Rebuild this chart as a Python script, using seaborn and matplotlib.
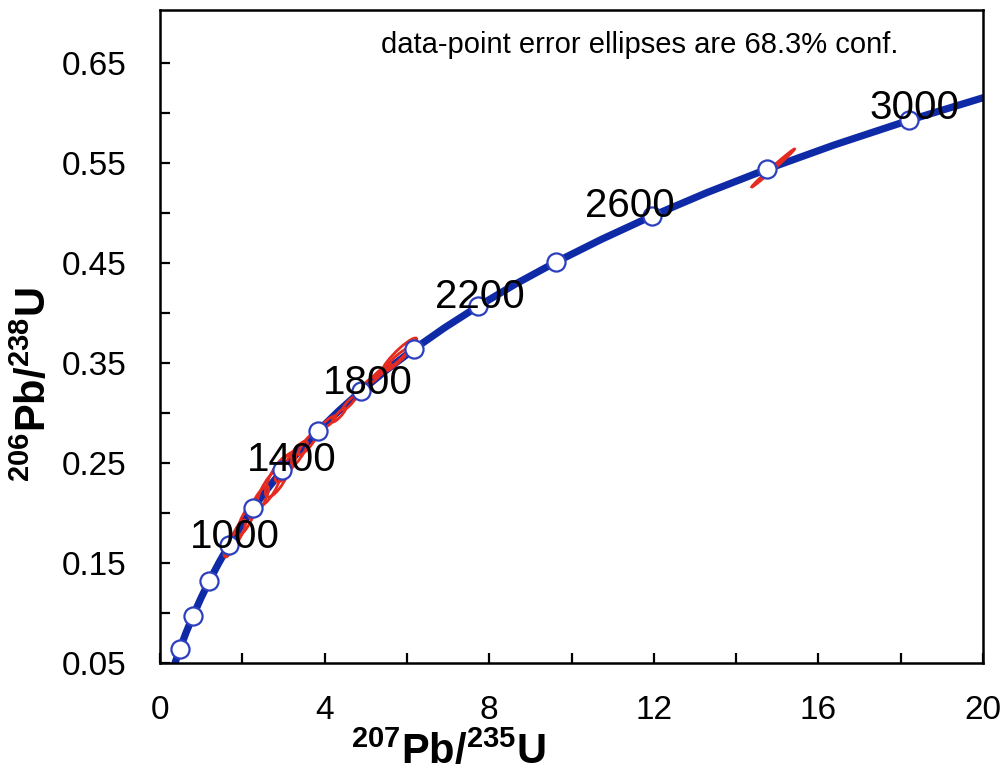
import numpy as np
import pandas as pd
import matplotlib
matplotlib.use("Agg")
import matplotlib.pyplot as plt
from matplotlib.patches import Ellipse
from matplotlib.ticker import FixedLocator
import seaborn as sns

# ---- data ----
# concordia curve (207Pb/235U, 206Pb/238U)
curve_x = [0.344, 0.483, 0.636, 0.806, 0.993, 1.199, 1.426, 1.677, 1.955, 2.260, 2.598,
           2.970, 3.381, 3.834, 4.335, 4.887, 5.496, 6.169, 6.910, 7.729, 8.632,
           9.630, 10.73, 11.945, 13.28, 14.762, 16.39, 18.193, 20.18]
curve_y = [0.0476, 0.0640, 0.0807, 0.0975, 0.1147, 0.1321, 0.1498, 0.1678, 0.1861, 0.2046,
           0.2234, 0.2426, 0.2620, 0.2817, 0.3018, 0.3221, 0.3428, 0.3638, 0.3851, 0.4067,
           0.4288, 0.4511, 0.4737, 0.4968, 0.5202, 0.5440, 0.5681, 0.5926, 0.6175]

# age markers (white circles)
marker_x = [0.483, 0.806, 1.199, 1.677, 2.260, 2.970, 3.834, 4.887, 6.169, 7.729,
            9.630, 11.945, 14.762, 18.193]
marker_y = [0.0640, 0.0975, 0.1321, 0.1678, 0.2046, 0.2426, 0.2817, 0.3221, 0.3638,
            0.4067, 0.4511, 0.4968, 0.5440, 0.5926]

# age labels
age_labels = ["1000", "1400", "1800", "2200", "2600", "3000"]
age_label_x = [0.73, 2.11, 3.96, 6.68, 10.33, 17.25]
age_label_y = [0.176, 0.253, 0.330, 0.416, 0.507, 0.605]

# error ellipses: centre, sigma x, sigma y, correlation
ell_x = [1.72, 1.90, 2.10, 2.40, 2.65, 2.88, 3.05, 3.30, 3.60, 4.10, 4.35, 4.60,
         5.15, 5.40, 5.82, 5.75, 14.90]
ell_y = [0.168, 0.180, 0.194, 0.211, 0.225, 0.237, 0.246, 0.257, 0.270, 0.291, 0.298,
         0.310, 0.333, 0.342, 0.358, 0.354, 0.545]
ell_sx = [0.16, 0.18, 0.22, 0.24, 0.28, 0.32, 0.25, 0.28, 0.24, 0.17, 0.16, 0.16,
          0.22, 0.22, 0.42, 0.30, 0.52]
ell_sy = [0.012, 0.013, 0.016, 0.016, 0.018, 0.021, 0.015, 0.015, 0.012, 0.006, 0.007,
          0.007, 0.007, 0.007, 0.017, 0.011, 0.019]
ell_rho = [0.78, 0.80, 0.80, 0.82, 0.78, 0.76, 0.74, 0.85, 0.88, 0.85, 0.90, 0.90,
           0.93, 0.93, 0.92, 0.95, 0.995]

x_ticks = [0, 4, 8, 12, 16, 20]
y_ticks = [0.05, 0.15, 0.25, 0.35, 0.45, 0.55, 0.65]
y_tick_labels = ["0.05", "0.15", "0.25", "0.35", "0.45", "0.55", "0.65"]
note = "data-point error ellipses are 68.3% conf."

# ---- styling ----
sns.set_theme(style="white")
plt.rcParams["font.family"] = ["Liberation Sans", "DejaVu Sans"]
plt.rcParams["mathtext.fontset"] = "custom"
plt.rcParams["mathtext.rm"] = "Liberation Sans"
plt.rcParams["mathtext.bf"] = "Liberation Sans:bold"

BLUE = "#0f2aa6"
MARK_EDGE = "#2b3fbf"
RED = "#e52a1f"

fig = plt.figure(figsize=(10.08, 7.75), dpi=100)
ax = fig.add_axes([160 / 1008, 112 / 775, 823 / 1008, 653 / 775])

curve_df = pd.DataFrame({"x": curve_x, "y": curve_y})
sns.lineplot(data=curve_df, x="x", y="y", sort=False, ax=ax, color=BLUE,
             linewidth=5.2, zorder=2, solid_capstyle="butt")

for cx, cy, sx, sy, r in zip(ell_x, ell_y, ell_sx, ell_sy, ell_rho):
    cov = np.array([[sx * sx, r * sx * sy], [r * sx * sy, sy * sy]])
    vals, vecs = np.linalg.eigh(cov)
    ang = np.degrees(np.arctan2(vecs[1, 1], vecs[0, 1]))
    e = Ellipse((cx, cy), width=2 * np.sqrt(vals[1]), height=2 * np.sqrt(vals[0]),
                angle=ang, facecolor="none", edgecolor=RED, linewidth=2.0, zorder=3)
    ax.add_patch(e)

marker_df = pd.DataFrame({"x": marker_x, "y": marker_y})
sns.scatterplot(data=marker_df, x="x", y="y", ax=ax, s=170, color="white",
                edgecolor=MARK_EDGE, linewidth=1.6, zorder=4)

for lab, lx, ly in zip(age_labels, age_label_x, age_label_y):
    ax.text(lx, ly, lab, fontsize=29, ha="left", va="center", color="black", zorder=5)

ax.text(11.66, 0.668, note, fontsize=21, ha="center", va="center", color="black")

ax.set_xlim(0, 20)
ax.set_ylim(0.05, 0.703)
ax.xaxis.set_major_locator(FixedLocator(x_ticks))
ax.xaxis.set_minor_locator(FixedLocator([2, 6, 10, 14, 18]))
ax.yaxis.set_major_locator(FixedLocator(y_ticks))
ax.yaxis.set_minor_locator(FixedLocator([0.10, 0.20, 0.30, 0.40, 0.50, 0.60]))
ax.set_yticklabels(y_tick_labels)
ax.set_xticklabels([str(t) for t in x_ticks])

ax.tick_params(axis="both", which="both", direction="in", length=7, width=1.6,
               color="black", labelcolor="black", labelsize=24,
               bottom=True, left=True, top=False, right=False)
ax.tick_params(axis="x", which="major", pad=23)
ax.tick_params(axis="y", which="major", pad=24)
for s in ax.spines.values():
    s.set_color("black")
    s.set_linewidth(1.8)

ax.set_xlabel(r"$\mathbf{^{207}Pb/^{235}U}$", fontsize=30, color="black")
ax.set_ylabel(r"$\mathbf{^{206}Pb/^{238}U}$", fontsize=30, color="black")
ax.xaxis.set_label_coords(0.35, -0.105)
ax.yaxis.set_label_coords(-0.128, 0.426)

fig.savefig("out.png", dpi=100)
